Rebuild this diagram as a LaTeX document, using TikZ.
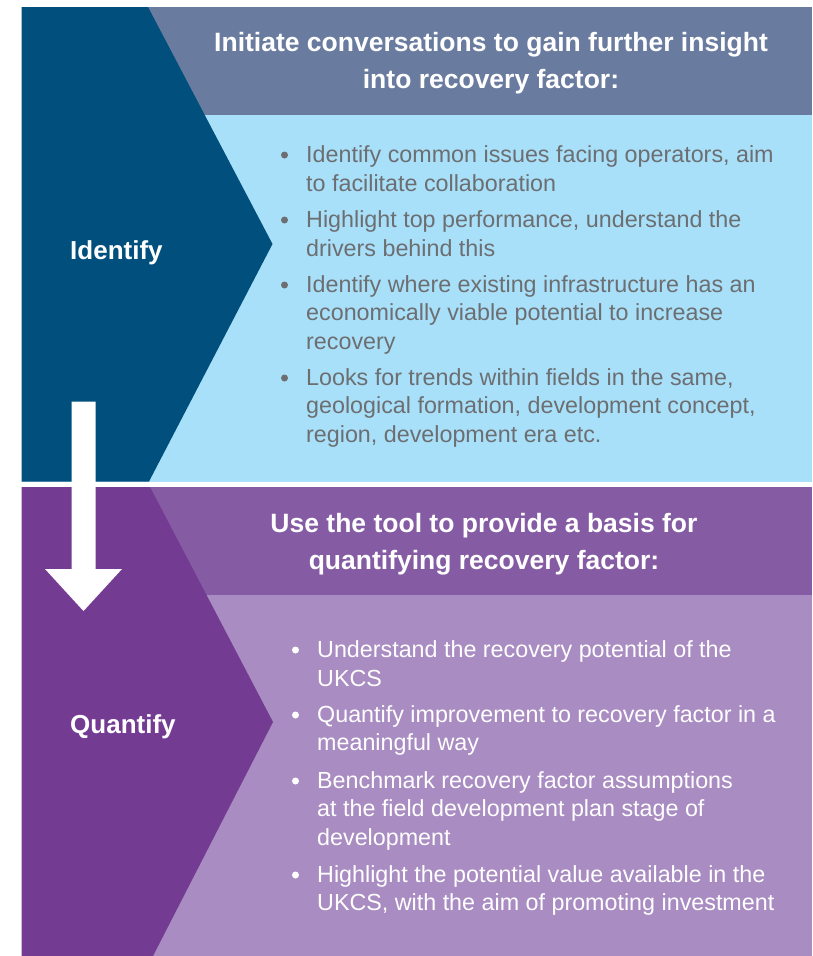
\documentclass[tikz,border=0pt]{standalone}
\usepackage{fontspec}
\setmainfont{Liberation Sans}
\definecolor{darkblue}{HTML}{004F7C}
\definecolor{slate}{HTML}{6A7BA0}
\definecolor{lightblue}{HTML}{A8E0F9}
\definecolor{graytext}{HTML}{6D6E71}
\definecolor{darkpurple}{HTML}{733B92}
\definecolor{midpurple}{HTML}{855CA4}
\definecolor{lilac}{HTML}{A98CC1}
\tikzset{
  headtext/.style={anchor=base, align=center, text=white, inner sep=0pt,
    font={\fontsize{26.5}{36.5}\selectfont\bfseries}},
  labeltext/.style={anchor=base west, text=white, inner sep=0pt,
    font={\fontsize{26}{30}\selectfont\bfseries}},
  bullettext/.style={anchor=base west, align=left, inner sep=0pt,
    font={\fontsize{23.3}{28.7}\selectfont}},
  bulletdot/.style={circle, minimum size=7pt, inner sep=0pt},
}
\begin{document}
\begin{tikzpicture}[x=1pt,y=-1pt]
\useasboundingbox (0,0) rectangle (812,956);
\fill[white] (0,0) rectangle (812,956);
% ---------- top panel ----------
\fill[lightblue] (21.5,7) rectangle (812,481.5);
\fill[slate] (148,7) rectangle (812,115);
\fill[darkblue] (21.5,7) -- (148,7) -- (272.5,244) -- (149,481.5) -- (21.5,481.5) -- cycle;
% anchor = baseline of the last line
\node[headtext] (h1) at (491,88) {Initiate conversations to gain further insight\\into recovery factor:};
\node[labeltext] (l1) at (70,259) {Identify};
\foreach \y/\n in {162/a,227/b,292/c,385/d}
  \node[bulletdot, fill=graytext] (d\n) at (284.5,\y-7) {};
\node[bullettext, text=graytext] (t1) at (306,191) {Identify common issues facing operators, aim\\to facilitate collaboration};
\node[bullettext, text=graytext] (t2) at (306,256) {Highlight top performance, understand the\\drivers behind this};
\node[bullettext, text=graytext] (t3) at (306,349.4) {Identify where existing infrastructure has an\\economically viable potential to increase\\recovery};
\node[bullettext, text=graytext] (t4) at (306,442.4) {Looks for trends within fields in the same,\\geological formation, development concept,\\region, development era etc.};
% ---------- bottom panel ----------
\fill[lilac] (21.5,487) rectangle (812,956);
\fill[midpurple] (150,487) rectangle (812,595);
\fill[darkpurple] (21.5,487) -- (150,487) -- (273,722) -- (153,956) -- (21.5,956) -- cycle;
\node[headtext] (h2) at (484,569) {Use the tool to provide a basis for\\quantifying recovery factor:};
\node[labeltext] (l2) at (70,733) {Quantify};
\foreach \y/\n in {657/e,722/f,788/g,882/h}
  \node[bulletdot, fill=white] (d\n) at (295.5,\y-7) {};
\node[bullettext, text=white] (u1) at (317,686) {Understand the recovery potential of the\\UKCS};
\node[bullettext, text=white] (u2) at (317,750.7) {Quantify improvement to recovery factor in a\\meaningful way};
\node[bullettext, text=white] (u3) at (317,845.4) {Benchmark recovery factor assumptions\\at the field development plan stage of\\development};
\node[bullettext, text=white] (u4) at (317,910.7) {Highlight the potential value available in the\\UKCS, with the aim of promoting investment};
% ---------- arrow ----------
\fill[white] (71.7,401.7) -- (95.7,401.7) -- (95.7,569) -- (122,569) -- (83.5,611) -- (45,569) -- (71.7,569) -- cycle;
\end{tikzpicture}
\end{document}
